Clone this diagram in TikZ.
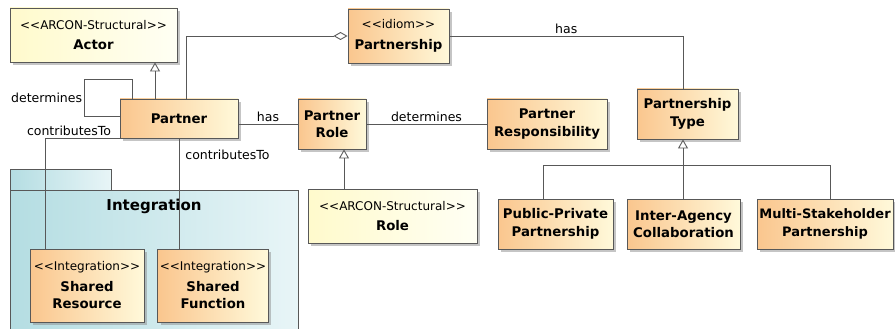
\documentclass[tikz,border=0pt]{standalone}
\usepackage{fontspec}
\setmainfont{DejaVu Sans}
\usetikzlibrary{arrows.meta,shadows,calc}

\definecolor{umlline}{RGB}{88,88,88}
\definecolor{clsorange}{RGB}{250,198,142}
\definecolor{clslight}{RGB}{255,249,218}
\definecolor{stlyellow}{RGB}{255,250,204}
\definecolor{stlwhite}{RGB}{255,255,244}
\definecolor{pkgteal}{RGB}{180,221,226}
\definecolor{pkglight}{RGB}{232,245,247}

\tikzset{
  uml/.style={draw=umlline, line width=0.9pt, rectangle, inner sep=2pt, align=center,
    font=\fontsize{13.3}{17.5}\selectfont\bfseries,
    drop shadow={shadow xshift=3pt, shadow yshift=-3pt, fill=black!45, opacity=0.5}},
  orangebox/.style={uml, left color=clsorange, right color=clslight},
  yellowbox/.style={uml, left color=stlyellow, right color=stlwhite},
  pkg/.style={draw=umlline, line width=0.9pt, rectangle, inner sep=0pt,
    left color=pkgteal, right color=pkglight},
  conn/.style={draw=umlline, line width=0.9pt},
  gen/.style={conn, -{Triangle[open, length=9pt, width=10pt]}},
  agg/.style={conn, -{Diamond[open, length=14pt, width=8pt]}},
  lbl/.style={font=\fontsize{12.5}{14}\selectfont, inner sep=2pt}
}
\newcommand{\stereo}[2]{{\fontsize{12}{14}\mdseries\selectfont <{}<#1>{}>}\\[3pt]#2}

\begin{document}
\begin{tikzpicture}[x=1pt, y=-1pt]
\useasboundingbox (0,0) rectangle (895,329);

% package
\node[pkg, minimum width=101pt, minimum height=21pt] (integ-tab) at (60.5,179.5) {};
\node[pkg, minimum width=288pt, minimum height=141pt] (integ) at (154,260.5) {};
\node[font=\fontsize{15}{17}\selectfont\bfseries] (integ-label) at ([yshift=-17pt]integ.north) {Integration};

% classes
\node[yellowbox, minimum width=167pt, minimum height=54pt] (actor) at (93.5,35) {\stereo{ARCON-Structural}{Actor}};
\node[orangebox, minimum width=118pt, minimum height=39pt] (partner) at (179,118.5) {Partner};
\node[orangebox, minimum width=101pt, minimum height=54pt] (partnership) at (398.5,36) {\stereo{idiom}{Partnership}};
\node[orangebox, minimum width=68pt, minimum height=50pt] (partner-role) at (332,124) {Partner\\Role};
\node[orangebox, minimum width=120pt, minimum height=50pt] (partner-resp) at (547,124) {Partner\\Responsibility};
\node[orangebox, minimum width=101pt, minimum height=50pt] (partnership-type) at (687.5,114) {Partnership\\Type};
\node[yellowbox, minimum width=169pt, minimum height=54pt] (role) at (392.5,216) {\stereo{ARCON-Structural}{Role}};
\node[orangebox, minimum width=115pt, minimum height=50pt] (type-ppp) at (555.5,224) {Public-Private\\Partnership};
\node[orangebox, minimum width=113pt, minimum height=50pt] (type-iac) at (683.5,224) {Inter-Agency\\Collaboration};
\node[orangebox, minimum width=136pt, minimum height=50pt, inner sep=1pt,
  font=\fontsize{13}{17.5}\selectfont\bfseries] (type-msp) at (825,224) {Multi-Stakeholder\\Partnership};
\node[orangebox, minimum width=114pt, minimum height=73pt] (shared-res) at (87,285.5) {\stereo{Integration}{Shared\\Resource}};
\node[orangebox, minimum width=110pt, minimum height=73pt] (shared-fun) at (213,285.5) {\stereo{Integration}{Shared\\Function}};

% connectors
\draw[gen] ([xshift=-24pt]partner.north) -- ([xshift=-24pt]partner.north |- actor.south);
\draw[conn] ([yshift=2pt]partner.west) -- ++(-35,0) -- node[lbl, left] {determines} ++(0,-37) -| ([xshift=-47pt]partner.north);
\draw[agg] ([xshift=7pt]partner.north) |- (partnership.west);
\coordinate (type-bus) at ($(partnership-type.south)+(-4.5,26)$);
\draw[conn] (partnership.east) -| (partnership-type.north -| type-bus) node[lbl, above, pos=0.25] {has};
\draw[conn] (partner.east |- partner-role.west) -- node[lbl, above] {has} (partner-role.west);
\draw[conn] (partner-role.east) -- node[lbl, above] {determines} (partner-resp.west);
\draw[gen] ([xshift=12pt]partner-role.south |- role.north) -- ([xshift=12pt]partner-role.south);
\draw[gen] (type-bus) -- (partnership-type.south -| type-bus);
\draw[conn] ([xshift=-12.5pt]type-ppp.north) |- (type-bus);
\draw[conn] (type-iac.north -| type-bus) -- (type-bus);
\draw[conn] ([xshift=5pt]type-msp.north) |- (type-bus);
\draw[conn] (partner.south west) -| ([xshift=-42pt]shared-res.north) node[lbl, pos=0, above left, xshift=-6pt] {contributesTo};
\draw[conn] (partner.south) -- node[lbl, right, pos=0.15, xshift=4pt] {contributesTo} (partner.south |- shared-fun.north);
\end{tikzpicture}
\end{document}
